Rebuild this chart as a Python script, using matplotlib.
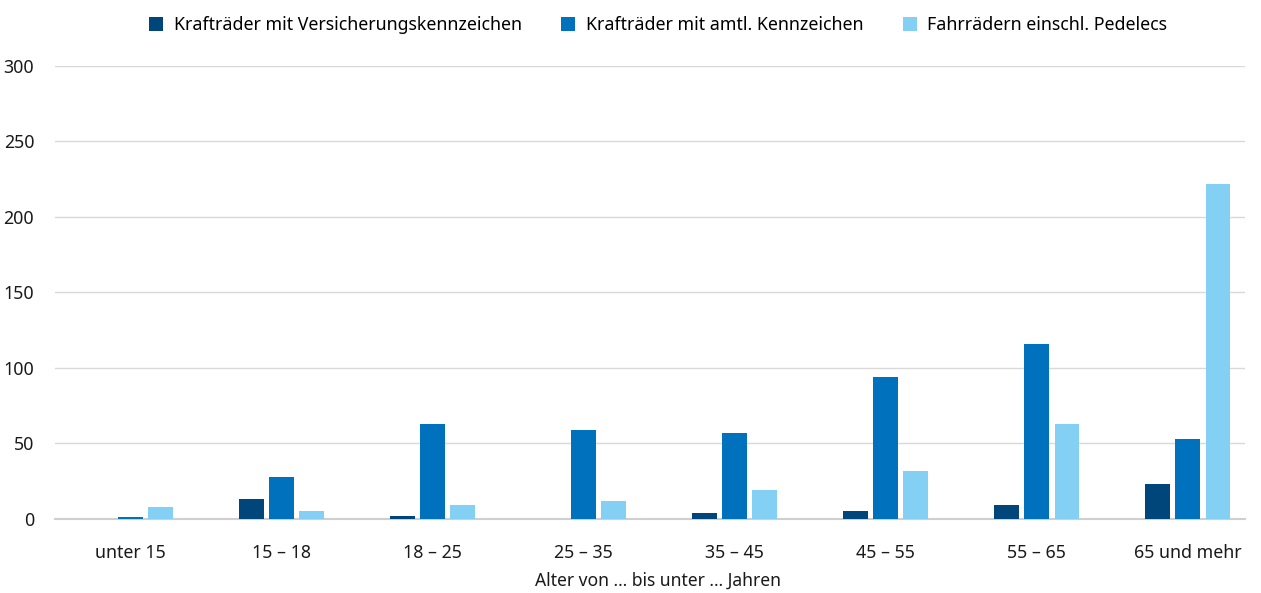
import matplotlib
matplotlib.use("Agg")
import matplotlib.pyplot as plt
import numpy as np

categories = ["unter 15", "15 – 18", "18 – 25", "25 – 35", "35 – 45", "45 – 55", "55 – 65", "65 und mehr"]
series_names = ["Krafträder mit Versicherungskennzeichen", "Krafträder mit amtl. Kennzeichen", "Fahrrädern einschl. Pedelecs"]
versicherung = [0, 13, 2, 0, 4, 5, 9, 23]
amtlich = [1, 28, 63, 59, 57, 94, 116, 53]
fahrrad = [8, 5, 9, 12, 19, 32, 63, 222]
colors = ["#00467a", "#0072bd", "#84d0f5"]

plt.rcParams['font.family'] = ['Noto Sans', 'DejaVu Sans']

fig = plt.figure(figsize=(12.61, 5.93), dpi=100)
ax = fig.add_axes([0.0436, 0.125, 0.9434, 0.764])

x = np.arange(len(categories))
w = 0.165
off = 0.2
for i, (vals, name) in enumerate(zip([versicherung, amtlich, fahrrad], series_names)):
    ax.bar(x + (i - 1) * off, vals, width=w, color=colors[i], label=name, zorder=3)

ax.set_xlim(-0.5, 7.376)
ax.set_ylim(0, 300)
ax.set_yticks([0, 50, 100, 150, 200, 250, 300])
ax.yaxis.grid(True, color="#d9d9d9", linewidth=1, zorder=0)
ax.set_xticks(x)
ax.set_xticklabels(categories)
ax.tick_params(axis="both", length=0, labelsize=12.8, colors="#1a1a1a")
ax.tick_params(axis="y", pad=15)
ax.tick_params(axis="x", pad=18)
for s in ["top", "right", "left"]:
    ax.spines[s].set_visible(False)
ax.spines["bottom"].set_color("#cfcfcf")
ax.spines["bottom"].set_linewidth(1.5)
ax.set_xlabel("Alter von … bis unter … Jahren", fontsize=12.6, color="#1a1a1a", labelpad=7)
ax.xaxis.label.set_x(0.507)

fig.legend(loc="upper center", bbox_to_anchor=(0.522, 1.0), ncol=3, frameon=False,
           fontsize=12.8, handlelength=0.8, handleheight=0.8, columnspacing=2.2, handletextpad=0.6)

fig.savefig("out.png", dpi=100)
